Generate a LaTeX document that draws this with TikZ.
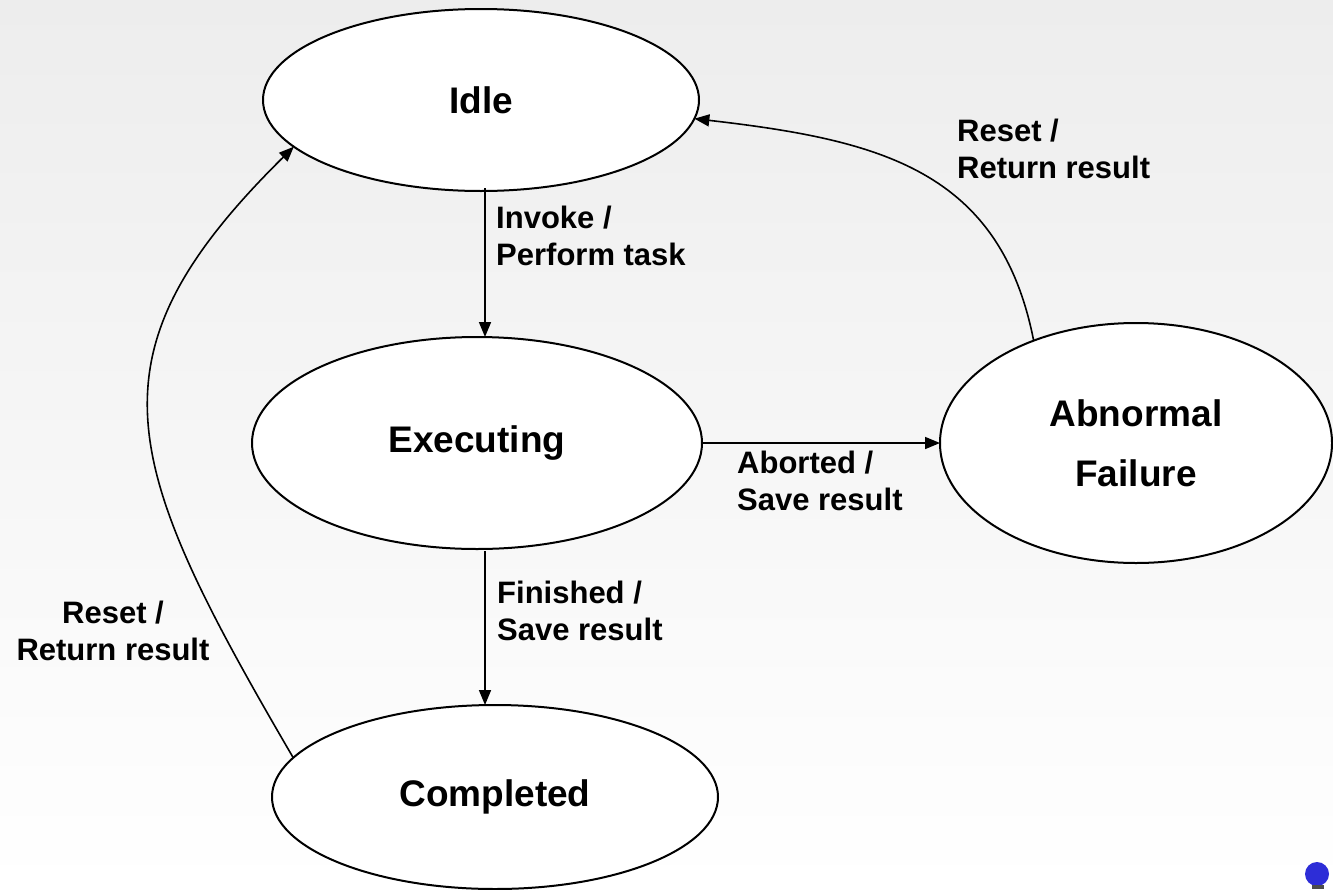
\documentclass[tikz,border=0pt]{standalone}
\usepackage{fontspec}
\setmainfont{Liberation Sans}
\usetikzlibrary{arrows.meta,shapes.geometric}
\definecolor{bgtop}{RGB}{237,237,237}
\definecolor{dotblue}{RGB}{45,45,215}
\begin{document}
\begin{tikzpicture}[x=1pt,y=-1pt,
  state/.style={ellipse,draw=black,line width=2pt,fill=white,inner sep=0pt,outer sep=0pt,
    font=\fontsize{37}{60}\selectfont\bfseries},
  trans/.style={line width=1.6pt,-{Triangle[length=15pt,width=12pt]}},
  lbl/.style={font=\fontsize{31}{37}\selectfont\bfseries,inner sep=0pt}]
% page background
\shade[top color=bgtop,bottom color=white] (0,0) rectangle (1333,889);
\useasboundingbox (0,0) rectangle (1333,889);

% states
\node[state,minimum width=436pt,minimum height=182pt] (idle) at (481,100) {Idle};
\node[state,minimum width=450pt,minimum height=212pt] (exec) at (477,443) {Executing};
\node[state,minimum width=446pt,minimum height=184pt] (done) at (495,797) {\raisebox{-4pt}{Completed}};
\node[state,minimum width=392pt,minimum height=240pt,align=center] (fail) at (1136,443) {Abnormal\\Failure};

% transitions
\draw[trans] ([xshift=4pt,yshift=3pt]idle.south) -- ([xshift=8pt]exec.north);
\draw[trans] ([xshift=8pt,yshift=-2pt]exec.south) -- ([xshift=-10pt]done.north);
\draw[trans] (exec.east) -- (fail.west);
\draw[trans] (done.169) .. controls (120,461) and (82,356) .. (idle.194);
\draw[trans] (fail.135) .. controls (1000,170) and (880,140) .. (idle.355);

% transition labels
\node[lbl,anchor=west,align=left] (lInvoke) at (496,236) {Invoke /\\Perform task};
\node[lbl,anchor=west,align=left] (lAbort) at (737,481) {Aborted /\\Save result};
\node[lbl,anchor=west,align=left] (lFinish) at (497,611) {Finished /\\Save result};
\node[lbl,align=center] (lResetL) at (113,631) {Reset /\\Return result};
\node[lbl,anchor=west,align=left] (lResetR) at (957,149) {Reset /\\Return result};

% corner mark
\fill[dotblue] (1317,874) circle (12pt);
\fill[black!70] (1312,885) rectangle (1324,889);
\end{tikzpicture}
\end{document}
